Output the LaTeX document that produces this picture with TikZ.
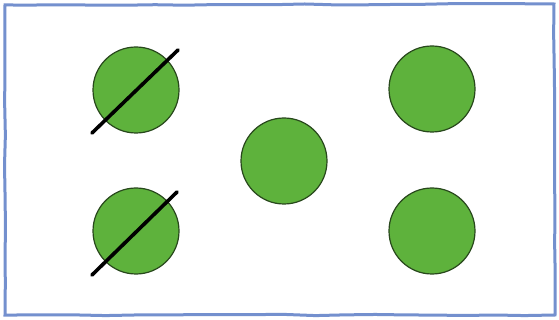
\documentclass[tikz,border=0pt]{standalone}
\usetikzlibrary{calc, decorations.pathmorphing}

\definecolor{dotgreen}{RGB}{94,178,60}
\definecolor{dotedge}{RGB}{40,72,28}
\definecolor{framblue}{RGB}{116,144,206}

\begin{document}
\begin{tikzpicture}[x=1pt,y=-1pt,
    dot/.style={circle,draw=dotedge,fill=dotgreen,line width=1.2pt,
                minimum size=86pt,inner sep=0pt},
    strike/.style={line width=3.6pt,black,line cap=round}]
  \useasboundingbox (0,0) rectangle (559,320);
  \fill[white] (0,0) rectangle (559,320);
  % frame
  \draw[framblue,line width=3pt,
        decorate,decoration={random steps,segment length=30pt,amplitude=0.6pt}]
        (5,5) -- (554,4) -- (555,315) -- (5,315) -- cycle;
  % dots
  \node[dot] (tl) at(136,90){};
  \node[dot] (bl) at(136,231){};
  \node[dot] (mid) at(284,161){};
  \node[dot] (tr) at(432,89){};
  \node[dot] (br) at(432,231){};
  % crossed-out dots
  \draw[strike] ($(tl)+(-44,43)$) -- ($(tl)+(42,-40)$);
  \draw[strike] ($(bl)+(-44,44)$) -- ($(bl)+(41,-39)$);
\end{tikzpicture}
\end{document}
